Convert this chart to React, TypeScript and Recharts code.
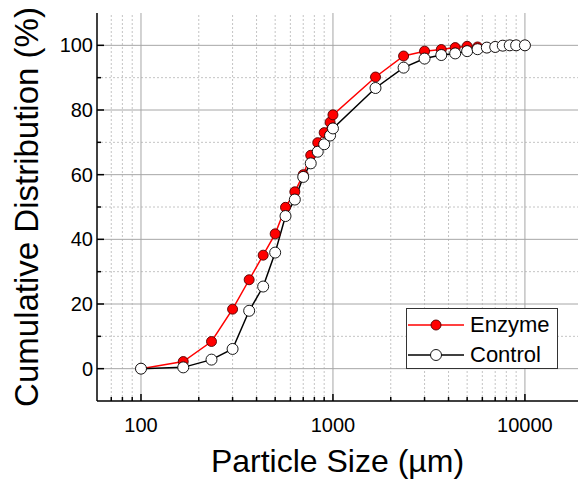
import React from "react";
import { ComposedChart, Line, XAxis, YAxis, ReferenceLine, Legend } from "recharts";

// sieve sizes (µm) and cumulative % passing
const SIZES = [100, 166, 233, 300, 366, 433, 500, 566, 633, 700, 766, 833, 900, 966, 1000, 1666, 2333, 3000, 3666, 4333, 5000, 5666, 6333, 7000, 7666, 8333, 9000, 10000];
const ENZYME = [0, 2.2, 8.4, 18.4, 27.5, 35.1, 41.7, 49.9, 54.7, 60.0, 66.0, 69.9, 73.0, 76.2, 78.5, 90.2, 96.7, 98.2, 98.7, 99.3, 99.7, 99.5, 99.3, 99.5, 99.9, 100, 100, 100];
const CONTROL = [0, 0.4, 2.8, 6.1, 17.9, 25.4, 35.9, 47.2, 52.3, 59.3, 63.5, 67.1, 69.4, 72.1, 74.3, 86.8, 93.1, 95.9, 97.0, 97.5, 98.2, 98.8, 99.3, 99.5, 99.9, 100, 100, 100];

const X_MAJOR = [100, 1000, 10000];
const X_MINOR = [70, 80, 90, 200, 300, 400, 500, 600, 700, 800, 900, 2000, 3000, 4000, 5000, 6000, 7000, 8000, 9000];
const Y_MAJOR = [0, 20, 40, 60, 80, 100];
const Y_MINOR = [10, 30, 50, 70, 90];

const X_DOMAIN = [59, 18900];
const Y_DOMAIN = [-10, 110];

const FONT = "Arial, 'Liberation Sans', sans-serif";

const SERIES = [
  { key: "enzyme", name: "Enzyme", stroke: "#ff0000", fill: "#ff0000", dot: "#500000", r: 5 },
  { key: "control", name: "Control", stroke: "#000000", fill: "#ffffff", dot: "#000000", r: 5.5 },
];

const data = SIZES.map((s, i) => ({ size: s, enzyme: ENZYME[i], control: CONTROL[i] }));
const X_TICKS = [...X_MINOR, ...X_MAJOR].sort((a, b) => a - b);
const Y_TICKS = [...Y_MINOR, ...Y_MAJOR].sort((a, b) => a - b);

const tickLen = (major: boolean) => (major ? 7 : 4);

const BottomTick = ({ x, y, payload }: any) => {
  const major = X_MAJOR.includes(payload.value);
  return (
    <g>
      <line x1={x} x2={x} y1={y} y2={y - tickLen(major)} stroke="#000" strokeWidth={1.5} />
      {major && (
        <text x={x} y={y + 31} textAnchor="middle" fontSize={20} fontFamily={FONT} fill="#000">
          {payload.value}
        </text>
      )}
    </g>
  );
};

const TopTick = ({ x, y, payload }: any) => (
  <line x1={x} x2={x} y1={y} y2={y + tickLen(X_MAJOR.includes(payload.value))} stroke="#000" strokeWidth={1.5} />
);

const LeftTick = ({ x, y, payload }: any) => {
  const major = Y_MAJOR.includes(payload.value);
  return (
    <g>
      <line x1={x} x2={x + tickLen(major)} y1={y} y2={y} stroke="#000" strokeWidth={1.5} />
      {major && (
        <text x={x - 4} y={y + 7} textAnchor="end" fontSize={20} fontFamily={FONT} fill="#000">
          {payload.value}
        </text>
      )}
    </g>
  );
};

const RightTick = ({ x, y, payload }: any) => (
  <line x1={x} x2={x - tickLen(Y_MAJOR.includes(payload.value))} y1={y} y2={y} stroke="#000" strokeWidth={1.5} />
);

const LegendBox = () => (
  <div style={{ position: "relative", width: 150, height: 59, border: "1px solid #333", background: "#fff" }}>
    {SERIES.map((s, i) => (
      <div key={s.key} style={{ position: "absolute", left: 0, top: 1 + i * 30, height: 30, display: "flex", alignItems: "center" }}>
        <svg width={58} height={14} style={{ marginLeft: 1 }}>
          <line x1={0} x2={56} y1={7} y2={7} stroke={s.stroke} strokeWidth={1.5} />
          <circle cx={28} cy={7} r={s.r} fill={s.fill} stroke={s.dot} strokeWidth={0.9} />
        </svg>
        <span style={{ fontSize: 22, fontFamily: FONT, color: "#000", marginLeft: 4, lineHeight: "30px" }}>{s.name}</span>
      </div>
    ))}
  </div>
);

export default function App() {
  return (
    <div style={{ position: "absolute", left: 0, top: 0 }}>
      <ComposedChart width={579} height={485} data={data} margin={{ top: 13, right: 1, bottom: 0, left: 0 }}>
        {/* grid */}
        {Y_MINOR.map((v) => (
          <ReferenceLine key={"ym" + v} xAxisId="x" yAxisId="y" y={v} stroke="#c4c4c4" strokeDasharray="2 2" />
        ))}
        {X_MINOR.map((v) => (
          <ReferenceLine key={"xm" + v} xAxisId="x" yAxisId="y" x={v} stroke="#c4c4c4" strokeDasharray="2 2" />
        ))}
        {Y_MAJOR.map((v) => (
          <ReferenceLine key={"yM" + v} xAxisId="x" yAxisId="y" y={v} stroke="#a6a6a6" />
        ))}
        {X_MAJOR.map((v) => (
          <ReferenceLine key={"xM" + v} xAxisId="x" yAxisId="y" x={v} stroke="#a6a6a6" />
        ))}

        <XAxis
          xAxisId="x"
          dataKey="size"
          type="number"
          scale="log"
          domain={X_DOMAIN}
          allowDataOverflow
          ticks={X_TICKS}
          interval={0}
          tickSize={0}
          tickMargin={0}
          tickLine={false}
          tick={<BottomTick />}
          height={84}
          axisLine={{ stroke: "#000", strokeWidth: 1.5 }}
          label={({ viewBox }: any) => (
            <text x={viewBox.x + viewBox.width / 2} y={viewBox.y + 71} textAnchor="middle" fontSize={32} fontFamily={FONT} fill="#000">
              Particle Size (µm)
            </text>
          )}
        />
        <XAxis
          xAxisId="xt"
          orientation="top"
          type="number"
          scale="log"
          domain={X_DOMAIN}
          allowDataOverflow
          ticks={X_TICKS}
          interval={0}
          tickSize={0}
          tickMargin={0}
          tickLine={false}
          tick={<TopTick />}
          height={0}
          axisLine={{ stroke: "#000", strokeWidth: 1.5 }}
        />
        <YAxis
          yAxisId="y"
          type="number"
          domain={Y_DOMAIN}
          allowDataOverflow
          ticks={Y_TICKS}
          interval={0}
          tickSize={0}
          tickMargin={0}
          tickLine={false}
          tick={<LeftTick />}
          width={97}
          axisLine={{ stroke: "#000", strokeWidth: 1.5 }}
          label={({ viewBox }: any) => (
            <text
              x={38}
              y={viewBox.y + viewBox.height / 2}
              transform={`rotate(-90, 38, ${viewBox.y + viewBox.height / 2})`}
              textAnchor="middle"
              fontSize={33}
              fontFamily={FONT}
              fill="#000"
            >
              Cumulative Distribution (%)
            </text>
          )}
        />
        <YAxis
          yAxisId="yr"
          orientation="right"
          type="number"
          domain={Y_DOMAIN}
          allowDataOverflow
          ticks={Y_TICKS}
          interval={0}
          tickSize={0}
          tickMargin={0}
          tickLine={false}
          tick={<RightTick />}
          width={0}
          axisLine={{ stroke: "#000", strokeWidth: 1.5 }}
        />

        {SERIES.map((s) => (
          <Line
            key={s.key}
            xAxisId="x"
            yAxisId="y"
            dataKey={s.key}
            name={s.name}
            type="linear"
            stroke={s.stroke}
            strokeWidth={1.5}
            dot={{ r: s.r, fill: s.fill, stroke: s.dot, strokeWidth: 0.9 }}
            activeDot={false}
            isAnimationActive={false}
          />
        ))}

        <Legend
          layout="vertical"
          align="center"
          verticalAlign="middle"
          wrapperStyle={{ left: 406, top: 308, width: 152, height: 61 }}
          content={<LegendBox />}
        />
      </ComposedChart>
    </div>
  );
}
